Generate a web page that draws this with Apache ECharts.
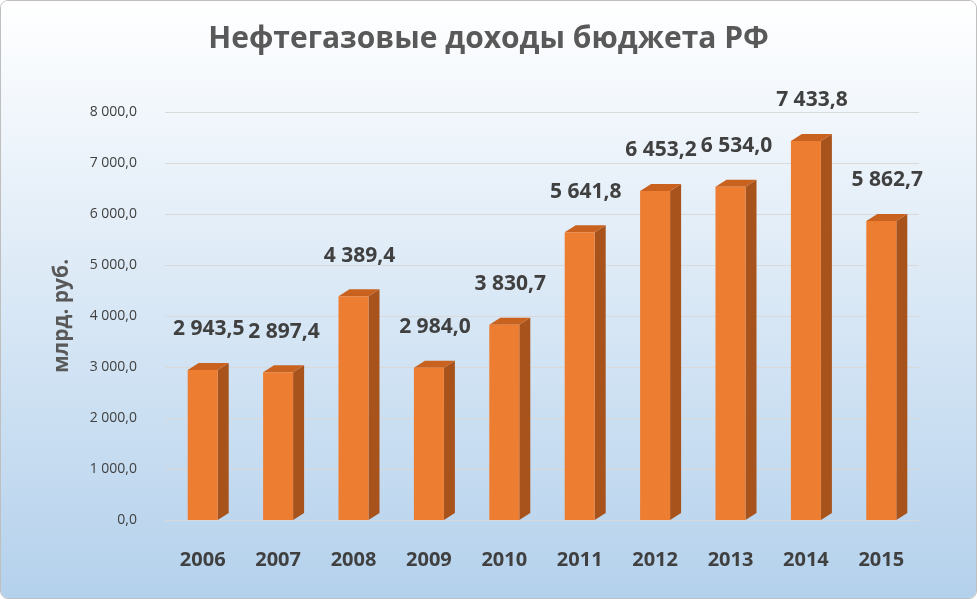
<!DOCTYPE html><html><head><meta charset="utf-8">
<script src="https://cdn.jsdelivr.net/npm/echarts@6/dist/echarts.min.js"></script>
<style>html,body{margin:0;padding:0;background:#fff}#c{width:975px;height:597px;border:1px solid #bfbfbf;border-radius:8px;overflow:hidden}</style></head><body>
<div id="c"></div>
<script>
const years=['2006','2007','2008','2009','2010','2011','2012','2013','2014','2015'];
const values=[2943.5,2897.4,4389.4,2984.0,3830.7,5641.8,6453.2,6534.0,7433.8,5862.7];
function fmt(v){const s=v.toFixed(1).split('.');return s[0].replace(/\B(?=(\d{3})+(?!\d))/g,' ')+','+s[1];}
const chart=echarts.init(document.getElementById('c'));
const DX=11,DY=-7,HW=15;
chart.setOption({
 backgroundColor:{type:'linear',x:0,y:0,x2:0,y2:1,colorStops:[{offset:0,color:'#ffffff'},{offset:1,color:'#b4d1ec'}]},
 title:{text:'Нефтегазовые доходы бюджета РФ',left:'center',top:18,textStyle:{fontFamily:'Open Sans',fontSize:30,fontWeight:'bold',color:'#595959'}},
 grid:{left:164,right:57,top:111,bottom:78},
 xAxis:{type:'category',data:years,axisLine:{show:false},axisTick:{show:false},axisLabel:{margin:30,fontFamily:'Open Sans',fontSize:20,fontWeight:'bold',color:'#404040'}},
 yAxis:{type:'value',min:0,max:8000,interval:1000,name:'млрд. руб.',nameLocation:'middle',nameGap:92,nameRotate:90,
  nameTextStyle:{fontFamily:'Open Sans',fontSize:21,fontWeight:'bold',color:'#595959'},
  axisLabel:{margin:28,fontFamily:'Open Sans',fontSize:14,color:'#404040',formatter:v=>fmt(v)},
  splitLine:{lineStyle:{color:'#d9d9d9'}}},
 series:[{type:'custom',data:values.map((v,i)=>[i,v]),
  renderItem:(p,api)=>{
   const t=api.coord([api.value(0),api.value(1)]),b=api.coord([api.value(0),0]);
   const x0=t[0]-HW,x1=t[0]+HW,yt=t[1],yb=b[1];
   return {type:'group',children:[
    {type:'polygon',shape:{points:[[x1,yt],[x1+DX,yt+DY],[x1+DX,yb+DY],[x1,yb]]},style:{fill:'#a8521c'}},
    {type:'polygon',shape:{points:[[x0,yt],[x0+DX,yt+DY],[x1+DX,yt+DY],[x1,yt]]},style:{fill:'#c9621f'}},
    {type:'rect',shape:{x:x0,y:yt,width:2*HW,height:yb-yt},style:{fill:'#ed7d31'}},
    {type:'text',style:{text:fmt(api.value(1)),x:t[0]+6,y:yt-30,align:'center',verticalAlign:'bottom',fontFamily:'Open Sans',fontSize:21,fontWeight:'bold',fill:'#404040'}}
   ]};
  }}]
});
</script></body></html>
